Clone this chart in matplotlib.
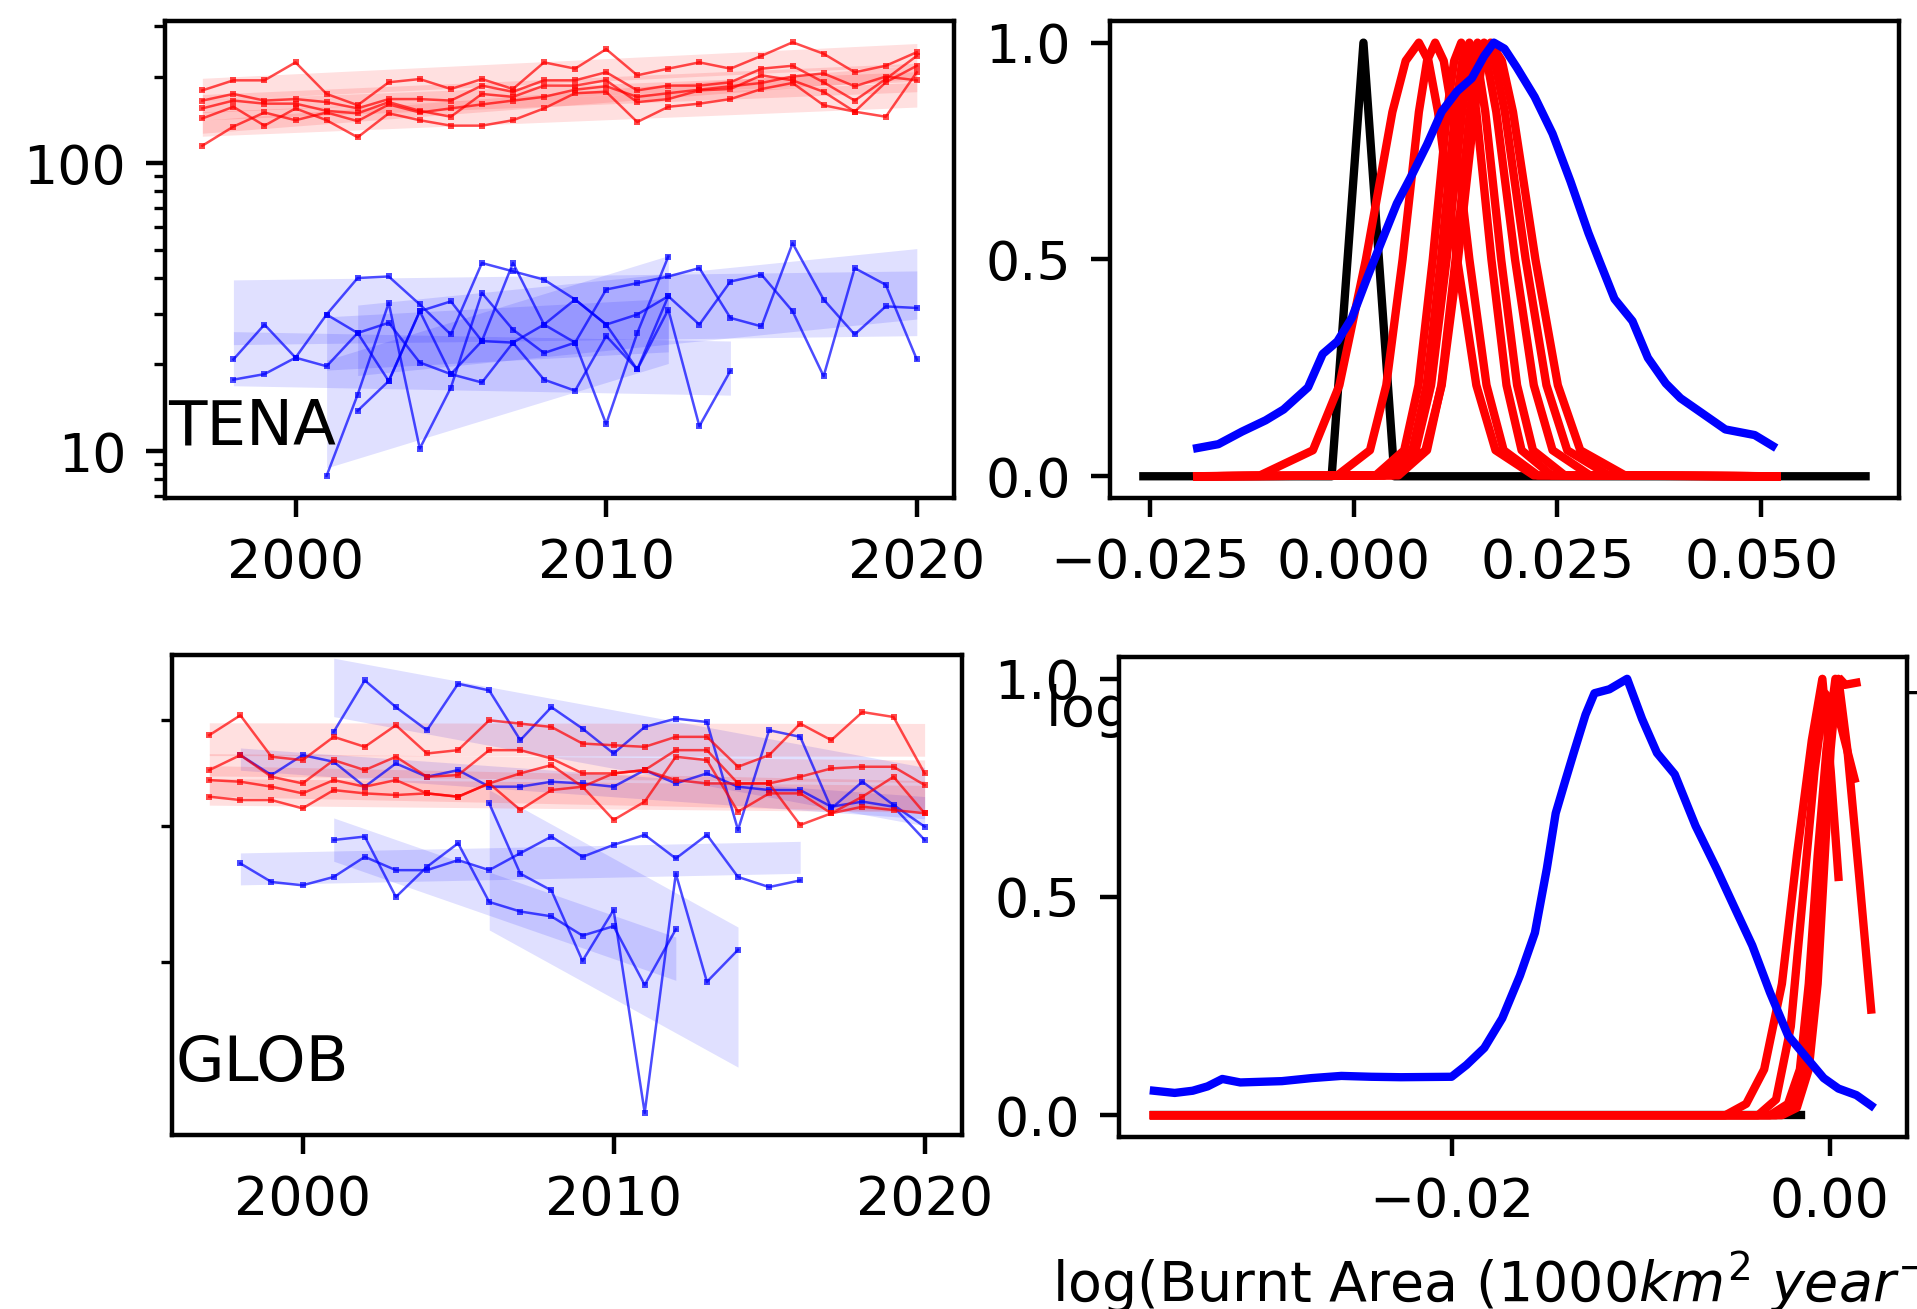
import numpy as np
import matplotlib
matplotlib.use("Agg")
import matplotlib.pyplot as plt
from matplotlib import ticker

plt.rcParams['font.size'] = 9.7

# ---------------- time series (1000 km2 / year) ----------------
years = np.arange(1997, 2021)

# TENA, model runs (1997-2020)
tena_mod = [
    [179, 194, 194, 224, 174, 159, 191, 196, 181, 196, 181, 224, 213, 249, 202, 213, 224, 213, 236, 263, 240, 207, 218, 243],
    [165, 174, 165, 167, 163, 155, 167, 167, 165, 186, 177, 194, 194, 207, 179, 186, 186, 191, 213, 218, 191, 165, 196, 236],
    [155, 165, 161, 161, 152, 149, 163, 152, 145, 174, 170, 186, 186, 194, 163, 167, 179, 181, 202, 194, 177, 151, 191, 218],
    [143, 157, 135, 155, 141, 123, 149, 141, 135, 135, 141, 155, 175, 177, 139, 157, 161, 167, 181, 190, 159, 151, 145, 207],
    [115, 134, 150, 141, 150, 140, 160, 150, 155, 160, 165, 170, 180, 185, 170, 175, 180, 185, 190, 200, 205, 185, 200, 194],
]
# TENA, observation products (first year, values)
tena_obs_start = [1998, 1998, 2001, 2002, 2001]
tena_obs = [
    [20.8, 27.5, 21.1, 29.8, 39.9, 40.4, 32.3, 25.4, 45.0, 42.1, 39.4, 33.6, 27.5, 29.8, 34.5, 27.5, 38.8, 41.0, 30.6, 18.2, 43.2, 37.8, 20.8],
    [17.7, 18.5, 21.1, 19.7, 25.7, 27.9, 20.3, 18.5, 17.3, 23.8, 17.7, 16.2, 25.1, 19.2, 31.0, 12.2, 19.0],
    [8.2, 15.7, 32.7, 10.2, 16.6, 35.4, 26.4, 21.9, 23.8, 12.4, 25.7, 47.4],
    [13.8, 17.5, 30.6, 33.1, 24.1, 45.0, 27.5, 23.8, 36.4, 38.3, 40.4, 43.2, 29.0, 27.1, 52.7, 33.6, 25.4, 31.8, 31.4],
    [29.8, 25.7, 17.5, 30.6, 18.5, 24.1, 23.8, 27.5, 33.6, 27.5, 19.2, 34.5],
]

# GLOB, model runs (1997-2020)
glob_mod = [
    [4845, 5053, 4629, 4596, 4828, 4727, 4948, 4661, 4694, 5000, 4965, 4930, 4760, 4743, 4727, 4828, 4828, 4532, 4645, 4965, 4794, 5088, 5035, 4469],
    [4500, 4645, 4437, 4375, 4596, 4500, 4629, 4437, 4453, 4694, 4694, 4612, 4469, 4469, 4500, 4694, 4694, 4375, 4375, 4437, 4516, 4532, 4532, 4360],
    [4406, 4391, 4345, 4284, 4406, 4345, 4406, 4284, 4254, 4375, 4469, 4548, 4345, 4050, 4210, 4629, 4596, 4121, 4284, 4284, 4107, 4254, 4437, 4107],
    [4254, 4224, 4224, 4150, 4314, 4284, 4269, 4284, 4254, 4375, 4136, 4314, 4345, 4469, 4500, 4406, 4375, 4375, 4375, 4007, 4107, 4165, 4136, 4107],
]
glob_obs_start = [1998, 2001, 1998, 2001, 2006]
glob_obs = [
    [3694, 3552, 3527, 3590, 3746, 3642, 3642, 3720, 3642, 3775, 3910, 3746, 3842, 3924, 3733, 3924, 3590, 3514, 3564],
    [4879, 5440, 5141, 4896, 5402, 5326, 4794, 5141, 4913, 4661, 4930, 5018, 4982, 3965, 4896, 4828, 4150, 4391, 4180, 3993],
    [4645, 4453, 4645, 4580, 4345, 4564, 4437, 4500, 4345, 4345, 4391, 4375, 4345, 4500, 4375, 4469, 4345, 4314, 4314, 4165, 4210, 4165, 3882],
    [3882, 3910, 3441, 3668, 3855, 3405, 3337, 3303, 3171, 3235, 2857, 3213],
    [4195, 3615, 3489, 3006, 3348, 2180, 3615, 2876, 3077],
]

# ---------------- trend distributions (normalised) ----------------
tena_obs_x = [-0.0192, -0.0166, -0.0137, -0.0108, -0.0086, -0.0056, -0.0038, -0.0020, -0.0002, 0.0017,
              0.0035, 0.0053, 0.0072, 0.0090, 0.0108, 0.0127, 0.0145, 0.0160, 0.0172, 0.0185,
              0.0200, 0.0222, 0.0244, 0.0266, 0.0288, 0.0302, 0.0320, 0.0342, 0.0361, 0.0383,
              0.0401, 0.0427, 0.0456, 0.0492, 0.0514]
tena_obs_d = [0.065, 0.074, 0.103, 0.129, 0.154, 0.205, 0.282, 0.311, 0.366, 0.460,
              0.545, 0.629, 0.697, 0.765, 0.841, 0.888, 0.918, 0.969, 1.0, 0.986,
              0.943, 0.875, 0.790, 0.680, 0.561, 0.494, 0.409, 0.358, 0.273, 0.214,
              0.180, 0.146, 0.108, 0.095, 0.070]
tena_base_x = [-0.0258, -0.0027, 0.0012, 0.0050, 0.0628]
tena_base_d = [0.0, 0.0, 1.0, 0.0, 0.0]
tena_mod_d = [0, 0.002, 0.06, 0.21, 0.5, 0.84, 0.958, 1.0, 0.958, 0.84, 0.5, 0.21, 0.06, 0.002, 0]
tena_mod_x = [
    [-0.0192, -0.0115, -0.0050, -0.00175, 0.0015, 0.00475, 0.00638, 0.0080, 0.00918, 0.01035, 0.0127, 0.01505, 0.0174, 0.0221, 0.0519],
    [-0.0192, -0.0020, 0.0020, 0.0040, 0.0060, 0.0080, 0.0090, 0.0100, 0.01105, 0.0121, 0.0142, 0.0163, 0.0184, 0.0226, 0.0519],
    [-0.0192, 0.0027, 0.0062, 0.00795, 0.0097, 0.01145, 0.01233, 0.0132, 0.01413, 0.01505, 0.0169, 0.01875, 0.0206, 0.0243, 0.0519],
    [-0.0192, 0.0037, 0.0072, 0.00895, 0.0107, 0.01245, 0.01333, 0.0142, 0.01518, 0.01615, 0.0181, 0.02005, 0.0220, 0.0259, 0.0519],
    [-0.0192, 0.0038, 0.0076, 0.0095, 0.0114, 0.0133, 0.01425, 0.0152, 0.01635, 0.0175, 0.0198, 0.0221, 0.0244, 0.0290, 0.0519],
    [-0.0192, 0.0055, 0.0090, 0.01075, 0.0125, 0.01425, 0.01513, 0.0160, 0.01728, 0.01855, 0.0211, 0.02365, 0.0262, 0.0313, 0.0519],
    [-0.0192, 0.0048, 0.0088, 0.0108, 0.0128, 0.0148, 0.0158, 0.0168, 0.01818, 0.01955, 0.0223, 0.02505, 0.0278, 0.0333, 0.0519],
]

glob_obs_x = [-0.03575, -0.03465, -0.03370, -0.03291, -0.03213, -0.03118, -0.02898, -0.02740, -0.02583, -0.02425,
              -0.02268, -0.02000, -0.01921, -0.01827, -0.01732, -0.01638, -0.01559, -0.01496, -0.01449, -0.01402,
              -0.01354, -0.01291, -0.01244, -0.01165, -0.01071, -0.00992, -0.00913, -0.00819, -0.00709, -0.00598,
              -0.00504, -0.00409, -0.00315, -0.00220, -0.00126, -0.00031, 0.00047, 0.00142, 0.00220]
glob_obs_d = [0.056, 0.051, 0.056, 0.066, 0.083, 0.075, 0.078, 0.085, 0.090, 0.088,
              0.087, 0.088, 0.115, 0.154, 0.222, 0.320, 0.418, 0.565, 0.692, 0.761,
              0.830, 0.918, 0.967, 0.976, 1.0, 0.908, 0.830, 0.781, 0.663, 0.565,
              0.477, 0.389, 0.281, 0.183, 0.134, 0.085, 0.061, 0.046, 0.022]
glob_base_x = [-0.03575, -0.0015]
glob_base_d = [0.0, 0.0]
glob_mod_x = [
    [-0.03575, -0.00551, -0.00441, -0.00346, -0.00252, -0.00173, -0.00094, -0.00038, 0.00006, 0.00047],
    [-0.03575, -0.00378, -0.00283, -0.00205, -0.00142, -0.00079, -0.00025, 0.00016, 0.00063, 0.00132],
    [-0.03575, -0.00315, -0.00220, -0.00157, -0.00110, -0.00063, -0.00016, 0.00031, 0.00079, 0.00142],
    [-0.03575, -0.00283, -0.00189, -0.00126, -0.00079, -0.00031, 0.00016, 0.00047, 0.00094, 0.00157, 0.00220],
    [-0.03575, -0.00252, -0.00173, -0.00110, -0.00063, -0.00025, 0.00006, 0.00038, 0.00063],
]
glob_mod_d = [
    [0, 0, 0.026, 0.105, 0.301, 0.595, 0.859, 1.0, 0.790, 0.546],
    [0, 0, 0.036, 0.203, 0.497, 0.790, 0.967, 0.947, 0.888, 0.771],
    [0, 0, 0.026, 0.105, 0.301, 0.595, 0.839, 1.0, 0.986, 0.991],
    [0, 0, 0.022, 0.154, 0.399, 0.692, 0.937, 1.0, 0.839, 0.546, 0.242],
    [0, 0, 0.017, 0.105, 0.301, 0.595, 0.839, 0.986, 0.996],
]

xlab = r'log(Burnt Area (1000$km^2$ $year^{-1}$))'


def plot_series(ax, yrs, vals, color):
    yrs = np.asarray(yrs, dtype=float)
    lv = np.log10(vals)
    k, c = np.polyfit(yrs, lv, 1)
    fit = k * yrs + c
    s = np.std(lv - fit)
    ax.fill_between(yrs, 10 ** (fit - s), 10 ** (fit + s), color=color, alpha=0.12, lw=0)
    ax.plot(yrs, vals, color=color, lw=0.45, alpha=0.7, marker='s', ms=1.1, mew=0)


fig = plt.figure(figsize=(1917 / 400, 1309 / 400), dpi=400)
ax_tl = fig.add_axes([0.0861, 0.6196, 0.4116, 0.3644])
ax_tr = fig.add_axes([0.5790, 0.6196, 0.4116, 0.3644])
ax_bl = fig.add_axes([0.0897, 0.1329, 0.4121, 0.3667])
ax_br = fig.add_axes([0.5837, 0.1314, 0.4111, 0.3667])

# --- time series panels ---
for ax, mod, obs_start, obs, name, ylim in [
        (ax_tl, tena_mod, tena_obs_start, tena_obs, 'TENA', (6.87, 312)),
        (ax_bl, glob_mod, glob_obs_start, glob_obs, 'GLOB', (2080, 5740))]:
    for st, vals in zip(obs_start, obs):
        plot_series(ax, np.arange(st, st + len(vals)), vals, 'blue')
    for vals in mod:
        plot_series(ax, years, vals, 'red')
    ax.set_yscale('log')
    ax.set_ylim(*ylim)
    ax.set_xlim(1995.8, 2021.2)
    ax.set_xticks([2000, 2010, 2020])
    ax.yaxis.set_minor_formatter(ticker.NullFormatter())
    ax.text(0.004, 0.113, name, transform=ax.transAxes, fontsize=11.3, va='baseline')

ax_tl.yaxis.set_major_formatter(ticker.FormatStrFormatter('%g'))
ax_bl.yaxis.set_major_formatter(ticker.NullFormatter())

# --- trend distribution panels ---
ax_tr.plot(tena_base_x, tena_base_d, color='black', lw=1.5)
for xs in tena_mod_x:
    ax_tr.plot(xs, tena_mod_d, color='red', lw=1.5)
ax_tr.plot(tena_obs_x, tena_obs_d, color='blue', lw=1.5)
ax_tr.set_xlim(-0.0299, 0.0669)
ax_tr.set_xticks([-0.025, 0.0, 0.025, 0.05])
ax_tr.set_xlabel(xlab, labelpad=15.5, fontsize=10, x=0.516)

ax_br.plot(glob_base_x, glob_base_d, color='black', lw=1.5)
for xs, ds in zip(glob_mod_x, glob_mod_d):
    ax_br.plot(xs, ds, color='red', lw=1.5)
ax_br.plot(glob_obs_x, glob_obs_d, color='blue', lw=1.5)
ax_br.set_xlim(-0.0376, 0.0041)
ax_br.set_xticks([-0.02, 0.0])
ax_br.set_xlabel(xlab, fontsize=10, x=0.514)

for ax in (ax_tr, ax_br):
    ax.set_ylim(-0.05, 1.05)
    ax.set_yticks([0.0, 0.5, 1.0])

fig.savefig('out.png', dpi=400)
